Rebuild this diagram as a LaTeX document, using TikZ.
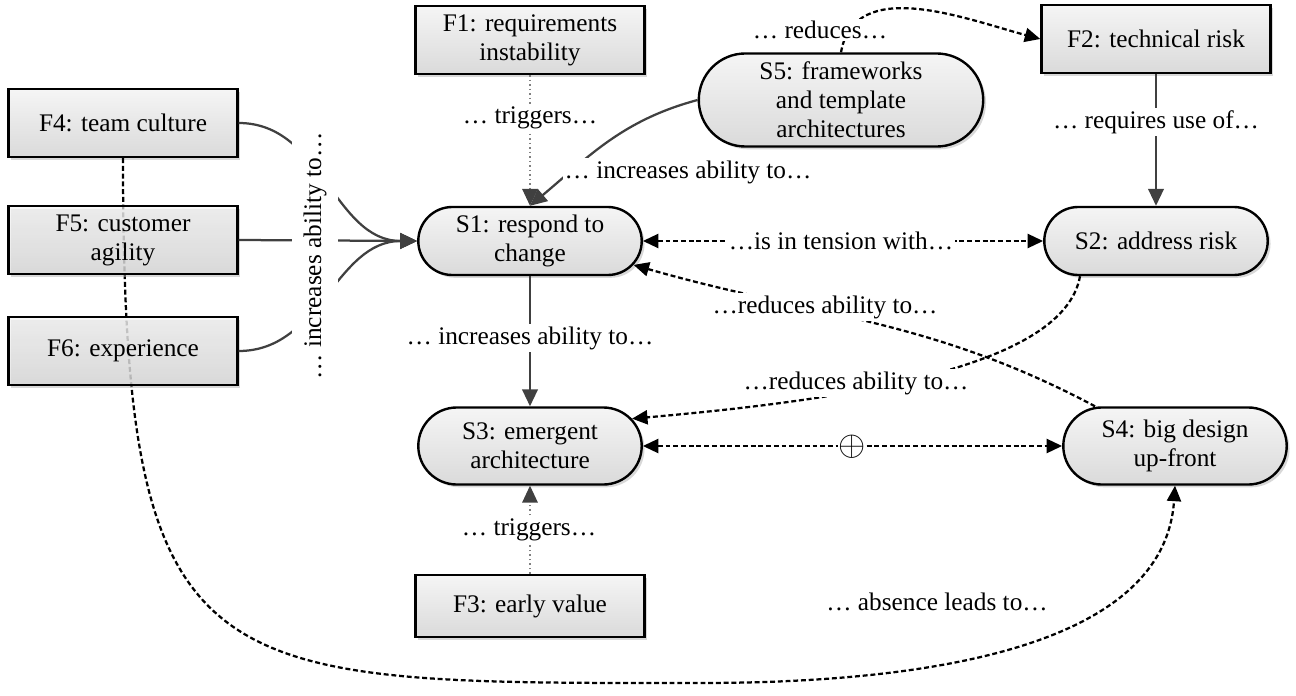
\documentclass[tikz,border=0pt]{standalone}
\usepackage{fontspec}
\setmainfont{Liberation Serif}
\usepackage{tikz}
\usetikzlibrary{calc,arrows.meta,shapes.misc,shadows}
\definecolor{linegrey}{HTML}{404040}
\definecolor{boxtop}{HTML}{F5F5F5}
\definecolor{boxbot}{HTML}{DADADA}
\newcommand{\lfont}{\fontsize{18}{20.6}\selectfont}
\tikzset{
  >={Triangle[length=11pt,width=10pt]},
  fact/.style={rectangle, draw=black, line width=1.7pt, top color=boxtop, bottom color=boxbot,
    minimum width=5.725cm, minimum height=1.7cm, inner sep=2pt, align=center, font=\lfont,
    drop shadow={shadow xshift=2pt, shadow yshift=-2pt, fill=black!30, opacity=0.5}},
  strat/.style={fact, rounded rectangle},
  seethru/.style={fill opacity=0.7, text opacity=1},
  lab/.style={fill=white, inner sep=1.5pt, font=\lfont},
  infl/.style={draw=linegrey, line width=1.6pt, -{Triangle[length=12pt,width=11pt,color=linegrey]}},
  trig/.style={draw=gray, line width=1pt, dash pattern=on 1pt off 2.2pt,
    -{Triangle[length=12pt,width=11pt,color=linegrey]}},
  negline/.style={draw=black, line width=1.6pt, dash pattern=on 3.5pt off 2pt},
}

\begin{document}
\begin{tikzpicture}[x=0.025cm, y=0.025cm]
\useasboundingbox (0,0) rectangle (1296,-696);

% Factors
\node[fact] (F1) at (530,-40) {F1: requirements\\instability};
\node[fact] (F2) at (1156,-39) {F2: technical risk};
\node[fact, minimum height=1.55cm] (F3) at (530,-606) {F3: early value};
\node[fact] (F4) at (123,-123) {F4: team culture};

% Strategies
\node[strat] (S1) at (530,-241) {S1: respond to\\change};
\node[strat] (S2) at (1156,-241) {S2: address risk};
\node[strat, minimum height=1.925cm] (S3) at (530,-446) {S3: emergent\\architecture};
\node[strat, minimum height=1.925cm] (S4) at (1175,-446) {S4: big design\\up-front};
\node[strat, minimum width=7.25cm, minimum height=2.325cm] (S5) at (841,-100) {S5: frameworks\\and template\\architectures};

% long curve, runs behind F5 and F6
\coordinate (dip) at (700,-683);
\draw[negline, ->] (F4.south) .. controls (123,-690) and (200,-683) .. (dip)
  .. controls (950,-683) and (1165,-640) .. (S4.south);

\node[fact, seethru] (F5) at (123,-240) {F5: customer\\agility};
\node[fact, seethru] (F6) at (123,-351) {F6: experience};

% Influences
\draw[infl] (F4.east) to[out=0,in=180] (S1.west);
\draw[infl] (F5.east) -- (S1.west);
\draw[infl] (F6.east) to[out=0,in=180] (S1.west);
\draw[trig] (F1.south) -- (S1.north);
\draw[infl] (S5.west) to[out=195,in=40] (S1.north);
\draw[infl] (F2.south) -- (S2.north);
\draw[infl] (S1.south) -- (S3.north);
\draw[trig] (F3.north) -- (S3.south);

% Tensions
\draw[negline, ->] (S5.north) to[out=80,in=165] (F2.west);
\draw[negline, <->] (S1.east) -- (S2.west);
\draw[negline, ->] ($(S4.north)+(-80,0)$) to[out=152,in=-16] (S1.-13);
\draw[negline, ->] ($(S2.south)+(-76,0)$) to[out=-100,in=5,out looseness=0.5,in looseness=1.2] (S3.15);
\draw[negline, <->] (S3.east) -- (S4.west);

% Labels
\node[lab, rotate=90, inner sep=8pt] (incC) at (315,-256) {… increases ability to…};
\node[lab] (trigA) at (530,-118) {… triggers…};
\node[lab] (incA) at (688,-172) {… increases ability to…};
\node[lab] (redA) at (820,-30) {… reduces…};
\node[lab] (reqA) at (1156,-122) {… requires use of…};
\node[lab] (tensA) at (841,-241) {…is in tension with…};
\node[lab] (redB) at (825,-307) {…reduces ability to…};
\node[lab] (redC) at (856,-383) {…reduces ability to…};
\node[lab] (incB) at (530,-338) {… increases ability to…};
\node[lab] (trigB) at (529,-530) {… triggers…};
\node[lab, inner sep=0.5pt, font=\fontsize{28}{28}\selectfont] (plusA) at (852,-447) {$\oplus$};
\node[lab] (absA) at (937,-602) {… absence leads to…};
\end{tikzpicture}
\end{document}
